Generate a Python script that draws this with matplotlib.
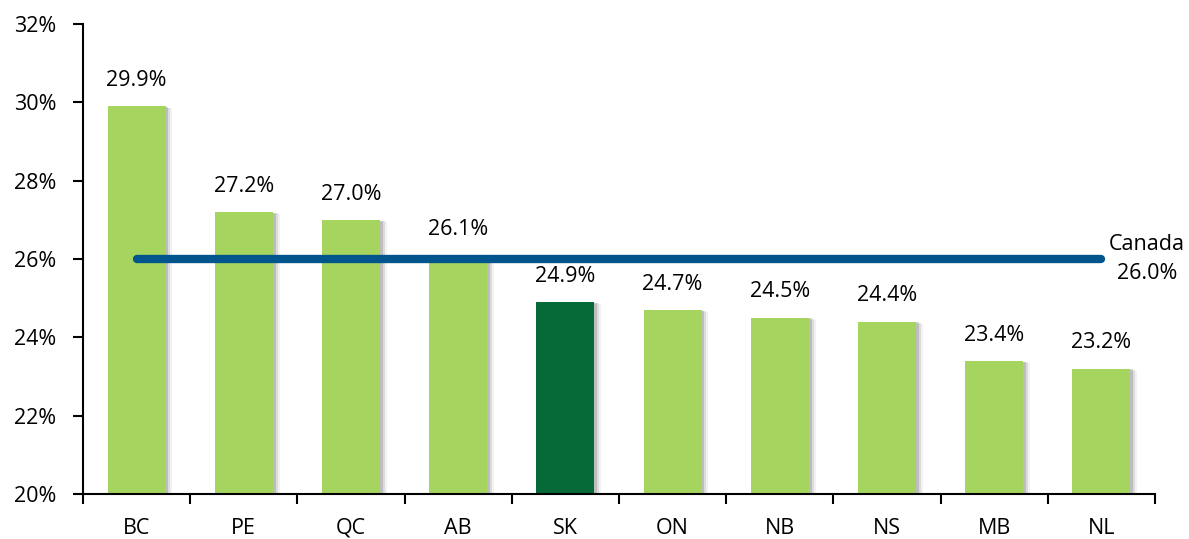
import matplotlib
matplotlib.use("Agg")
import matplotlib.pyplot as plt
import matplotlib.patheffects as pe
import numpy as np

provinces = ["BC", "PE", "QC", "AB", "SK", "ON", "NB", "NS", "MB", "NL"]
values = [29.9, 27.2, 27.0, 26.1, 24.9, 24.7, 24.5, 24.4, 23.4, 23.2]
highlight = "SK"
canada_value = 26.0
y_ticks = [20, 22, 24, 26, 28, 30, 32]

light = "#A5D55F"
dark = "#066A38"
line_color = "#00558C"

plt.rcParams['font.family'] = ['Open Sans', 'DejaVu Sans']
FS = 15.5

fig = plt.figure(figsize=(11.89, 5.39), dpi=100)
ax = fig.add_axes([83/1189, (539-494)/539, (1155-83)/1189, (494-24)/539])

x = np.arange(len(provinces))
colors = [dark if p == highlight else light for p in provinces]
bars = ax.bar(x, [v - 20 for v in values], bottom=20, width=0.54, color=colors, zorder=2)
for b in bars:
    b.set_path_effects([
        pe.SimplePatchShadow(offset=(5, -1.5), shadow_rgbFace="#999999", alpha=0.12),
        pe.SimplePatchShadow(offset=(3.5, -1), shadow_rgbFace="#888888", alpha=0.2),
        pe.SimplePatchShadow(offset=(2, -0.5), shadow_rgbFace="#777777", alpha=0.3),
        pe.Normal()])

for xi, v in zip(x, values):
    ax.annotate(f"{v:.1f}%", (xi, v), xytext=(0, 11), textcoords="offset points",
                ha="center", va="bottom", fontsize=FS, zorder=4)

ax.plot([x[0], x[-1]], [canada_value, canada_value], color=line_color, lw=6,
        solid_capstyle="round", zorder=3)
ax.annotate(f"Canada\n{canada_value:.1f}%", (x[-1], canada_value), xytext=(33, 0),
            textcoords="offset points", ha="center", va="center", fontsize=FS,
            linespacing=1.45, zorder=4)

ax.set_xlim(-0.5, len(provinces) - 0.5)
ax.set_ylim(20, 32)
ax.set_yticks(y_ticks)
ax.set_yticklabels([f"{t}%" for t in y_ticks])
ax.set_xticks(x)
ax.set_xticklabels(provinces)
ax.set_xticks(np.arange(-0.5, len(provinces), 1.0), minor=True)
ax.tick_params(axis="x", which="major", length=0, labelsize=FS, pad=17)
ax.tick_params(axis="x", which="minor", length=7, width=1.5, direction="out")
ax.tick_params(axis="y", length=7, width=1.5, labelsize=FS, pad=12)
for s in ["top", "right"]:
    ax.spines[s].set_visible(False)
for s in ["left", "bottom"]:
    ax.spines[s].set_linewidth(1.5)
    ax.spines[s].set_zorder(5)

fig.savefig("out.png", dpi=100)
